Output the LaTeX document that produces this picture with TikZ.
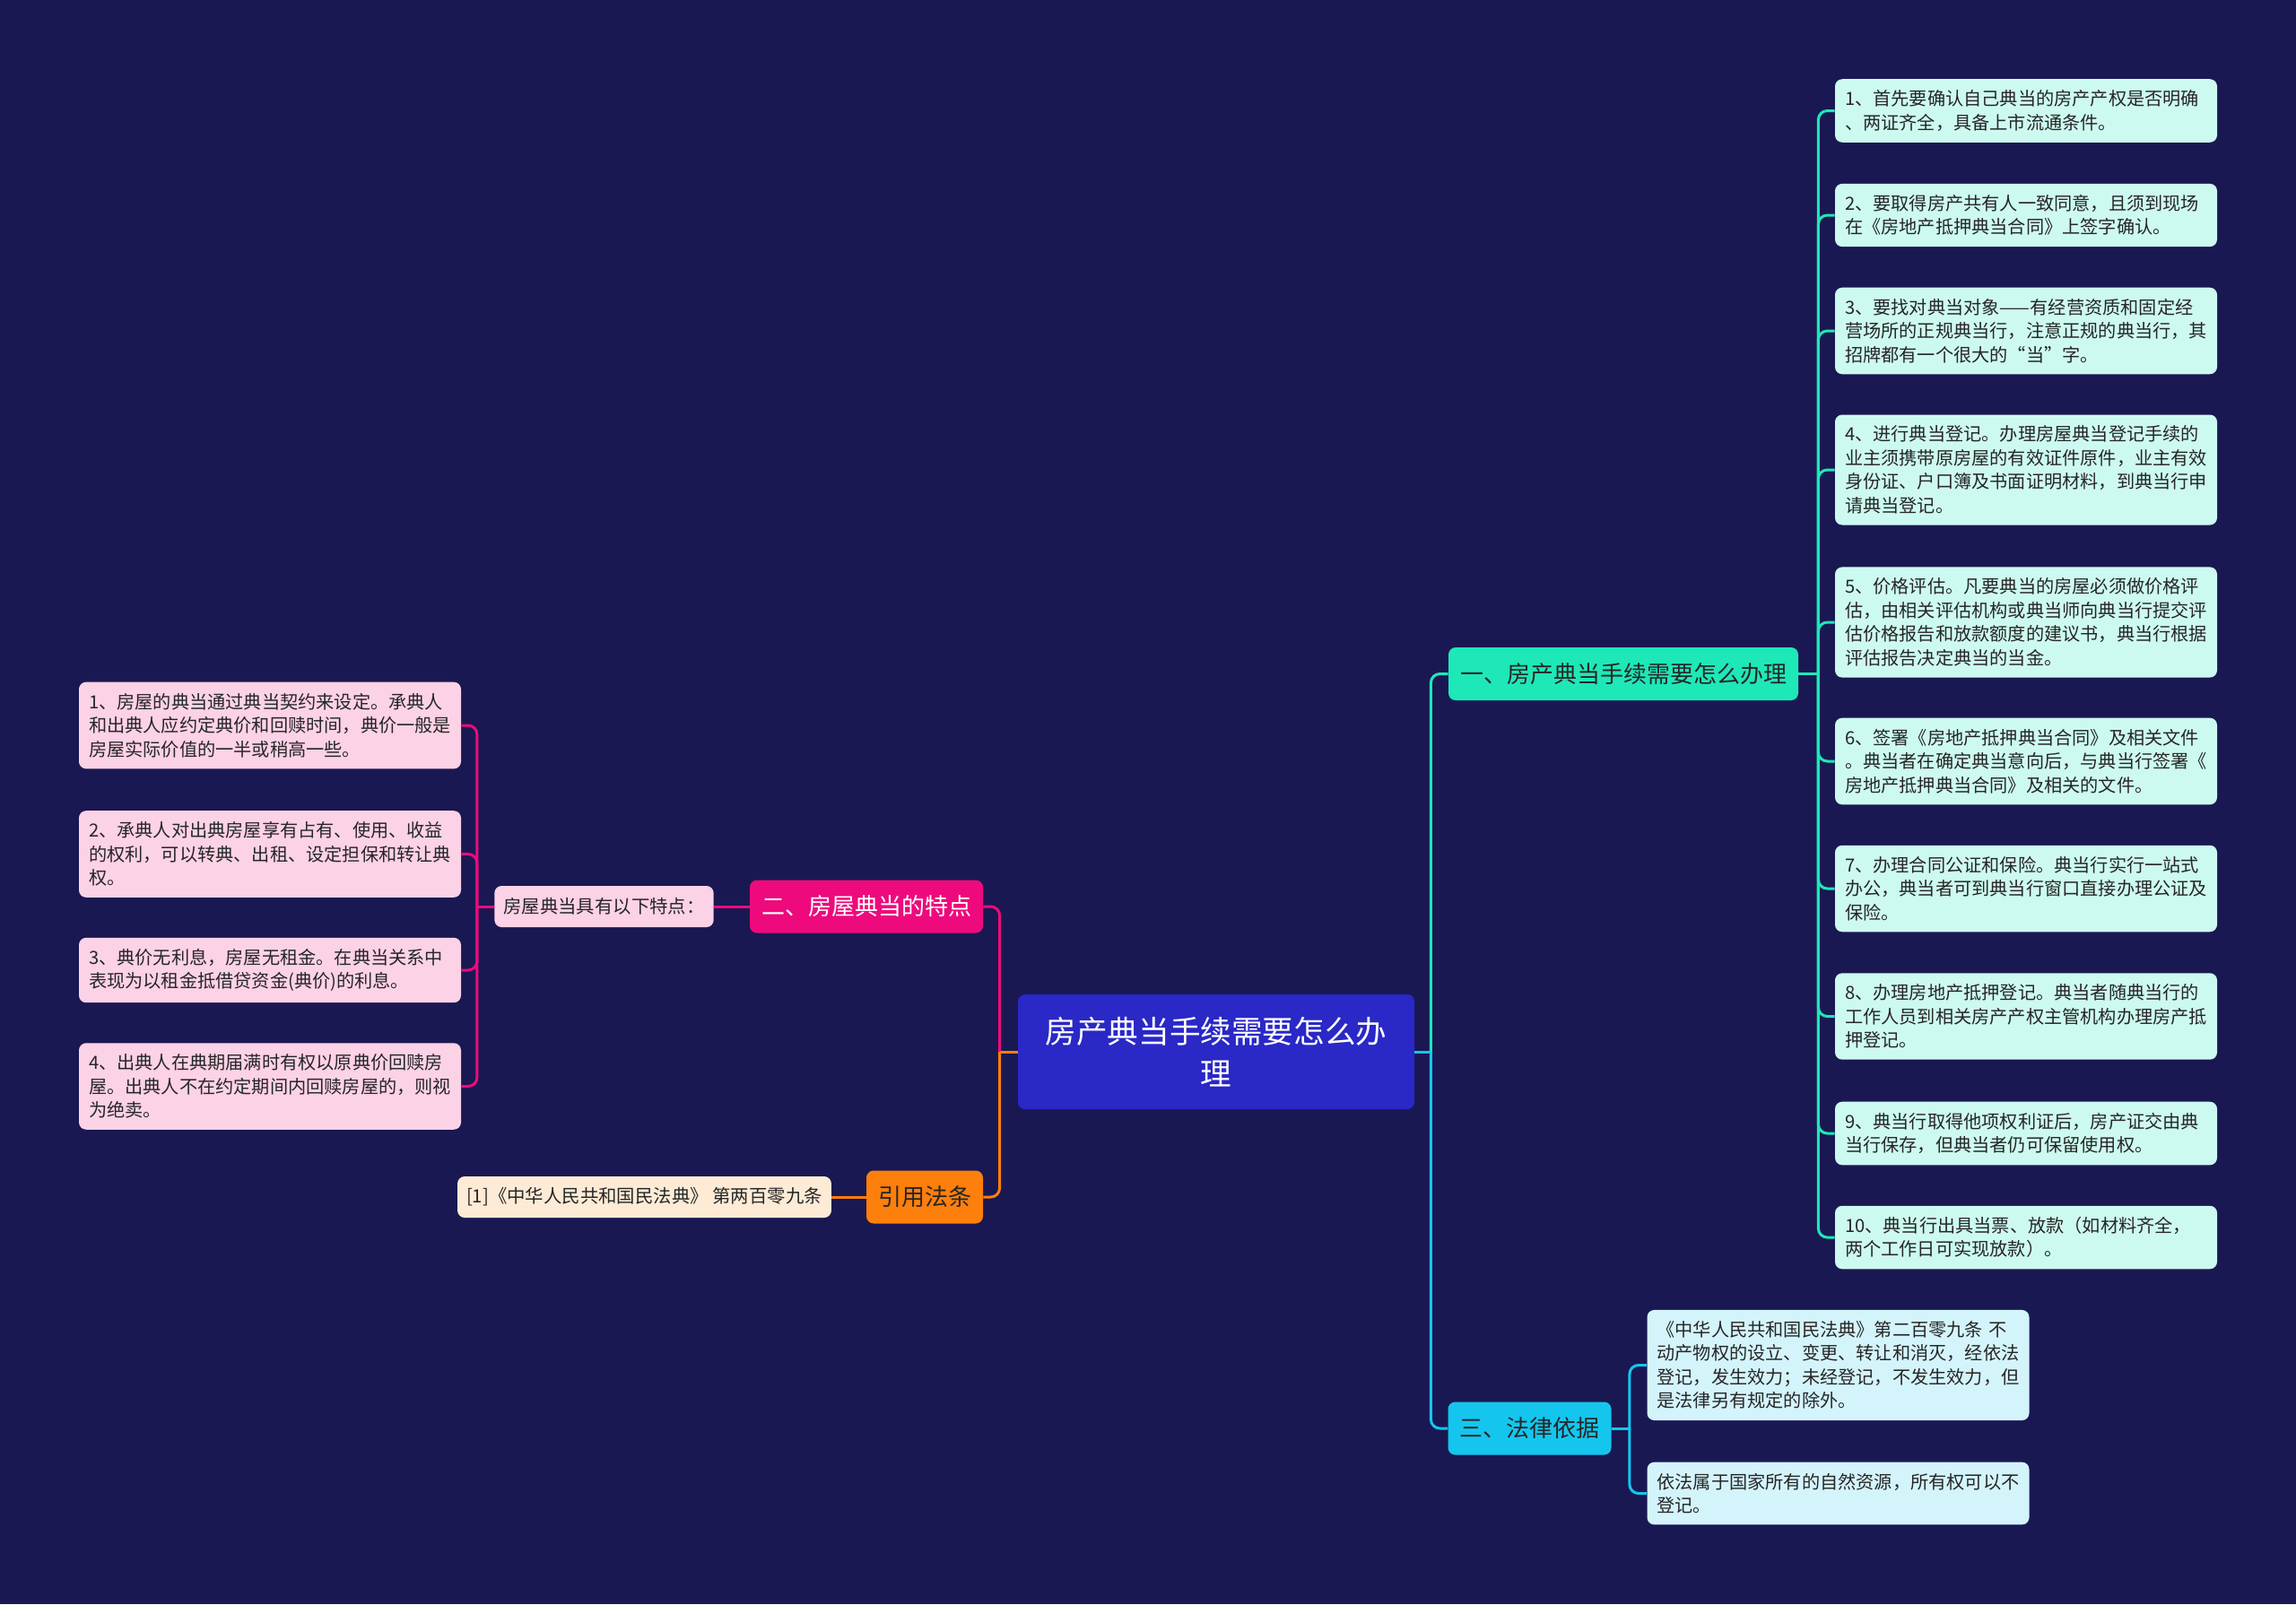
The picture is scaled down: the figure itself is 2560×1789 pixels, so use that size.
\documentclass[tikz,border=0pt]{standalone}
\usepackage{fontspec}
\setmainfont{Noto Sans CJK SC}

\definecolor{bgc}{HTML}{1A1852}
\definecolor{rootc}{HTML}{2A28C6}
\definecolor{tealc}{HTML}{1EE8B8}
\definecolor{cyanc}{HTML}{14C6EE}
\definecolor{pinkc}{HTML}{EE0A7C}
\definecolor{orangec}{HTML}{FD7F0C}
\definecolor{mintc}{HTML}{CDFAF0}
\definecolor{icec}{HTML}{D4F4FC}
\definecolor{rosec}{HTML}{FCD2E6}
\definecolor{creamc}{HTML}{FEEBD6}
\definecolor{inkc}{HTML}{262626}

\begin{document}
\begin{tikzpicture}[x=0.5pt, y=-0.5pt,
  box/.style={rounded corners=4pt, inner sep=0pt},
  root/.style={box, fill=rootc, text=white, minimum width=221pt, minimum height=64pt,
    align=center, font=\fontsize{17.3}{23.5}\selectfont},
  topic/.style={box, fill=#1, text=inkc, inner xsep=6.5pt, minimum height=29.5pt,
    font=\fontsize{13}{16}\selectfont},
  leaf/.style={box, fill=#1, text=inkc, inner xsep=5.5pt, inner ysep=6.2pt, text width=202pt,
    align=left, font=\fontsize{10.1}{13.25}\selectfont},
  tag/.style={box, fill=#1, text=inkc, inner xsep=5pt, minimum height=23pt,
    font=\fontsize{10.2}{13}\selectfont},
  link/.style={draw=#1, line width=1.5pt},
  bend/.style={link=#1, rounded corners=5pt},
]
\fill[bgc] (0,0) rectangle (2560,1789);

\node[root] (root) at (1356,1173) {房产典当手续需要怎么办\\理};
\node[topic=tealc] (t1) at (1810,751.5) {一、房产典当手续需要怎么办理};
\node[topic=cyanc] (t3) at (1705.5,1593) {三、法律依据};
\node[topic=pinkc, text=white] (t2) at (966,1011) {二、房屋典当的特点};
\node[topic=orangec] (t4) at (1031,1335) {引用法条};

% steps
\node[leaf=mintc] (r1) at (2259,123.5) {1、首先要确认自己典当的房产产权是否明确\\、两证齐全，具备上市流通条件。};
\node[leaf=mintc] (r2) at (2259,240) {2、要取得房产共有人一致同意，且须到现场\\在《房地产抵押典当合同》上签字确认。};
\node[leaf=mintc] (r3) at (2259,369) {3、要找对典当对象——有经营资质和固定经\\营场所的正规典当行，注意正规的典当行，其\\招牌都有一个很大的“当”字。};
\node[leaf=mintc] (r4) at (2259,524) {4、进行典当登记。办理房屋典当登记手续的\\业主须携带原房屋的有效证件原件，业主有效\\身份证、户口簿及书面证明材料，到典当行申\\请典当登记。};
\node[leaf=mintc] (r5) at (2259,694) {5、价格评估。凡要典当的房屋必须做价格评\\估，由相关评估机构或典当师向典当行提交评\\估价格报告和放款额度的建议书，典当行根据\\评估报告决定典当的当金。};
\node[leaf=mintc] (r6) at (2259,849) {6、签署《房地产抵押典当合同》及相关文件\\。典当者在确定典当意向后，与典当行签署《\\房地产抵押典当合同》及相关的文件。};
\node[leaf=mintc] (r7) at (2259,991) {7、办理合同公证和保险。典当行实行一站式\\办公，典当者可到典当行窗口直接办理公证及\\保险。};
\node[leaf=mintc] (r8) at (2259,1133.5) {8、办理房地产抵押登记。典当者随典当行的\\工作人员到相关房产产权主管机构办理房产抵\\押登记。};
\node[leaf=mintc] (r9) at (2259,1264) {9、典当行取得他项权利证后，房产证交由典\\当行保存，但典当者仍可保留使用权。};
\node[leaf=mintc] (r10) at (2259,1380) {10、典当行出具当票、放款（如材料齐全，\\两个工作日可实现放款）。};

% law
\node[leaf=icec] (l1) at (2049.5,1522.5) {《中华人民共和国民法典》第二百零九条 不\\动产物权的设立、变更、转让和消灭，经依法\\登记，发生效力；未经登记，不发生效力，但\\是法律另有规定的除外。};
\node[leaf=icec] (l2) at (2049.5,1665.5) {依法属于国家所有的自然资源，所有权可以不\\登记。};

% features
\node[tag=rosec] (feat) at (673.5,1011) {房屋典当具有以下特点：};
\node[leaf=rosec] (p1) at (301,809) {1、房屋的典当通过典当契约来设定。承典人\\和出典人应约定典价和回赎时间，典价一般是\\房屋实际价值的一半或稍高一些。};
\node[leaf=rosec] (p2) at (301,952.5) {2、承典人对出典房屋享有占有、使用、收益\\的权利，可以转典、出租、设定担保和转让典\\权。};
\node[leaf=rosec] (p3) at (301,1082) {3、典价无利息，房屋无租金。在典当关系中\\表现为以租金抵借贷资金(典价)的利息。};
\node[leaf=rosec] (p4) at (301,1211.5) {4、出典人在典期届满时有权以原典价回赎房\\屋。出典人不在约定期间内回赎房屋的，则视\\为绝卖。};

\node[tag=creamc] (cite) at (718.5,1335) {[1]《中华人民共和国民法典》 第两百零九条};

\coordinate (jr) at ([xshift=9pt]root.east);
\coordinate (jl) at ([xshift=-10pt]root.west);
\coordinate (j1) at ([xshift=11pt]t1.east);
\coordinate (j3) at ([xshift=10pt]t3.east);
\coordinate (j2) at ([xshift=-9.5pt]feat.west);

\draw[bend=tealc] (jr) |- (t1.west);
\draw[bend=cyanc] (jr) |- (t3.west);
\draw[link=cyanc] (root.east) -- (jr);
\draw[bend=pinkc] (jl) |- (t2.east);
\draw[bend=orangec] (jl) |- (t4.east);
\draw[link=orangec] (root.west) -- (jl);

\draw[link=tealc] (t1.east) -- (j1);
\foreach \i in {1,...,10}
  \draw[bend=tealc] (j1) |- (r\i.west);
\draw[link=cyanc] (t3.east) -- (j3);
\foreach \i in {1,2}
  \draw[bend=cyanc] (j3) |- (l\i.west);

\draw[link=pinkc] (t2.west) -- (feat.east);
\draw[link=pinkc] (feat.west) -- (j2);
\foreach \i in {1,...,4}
  \draw[bend=pinkc] (j2) |- (p\i.east);
\draw[link=orangec] (t4.west) -- (cite.east);
\end{tikzpicture}
\end{document}
